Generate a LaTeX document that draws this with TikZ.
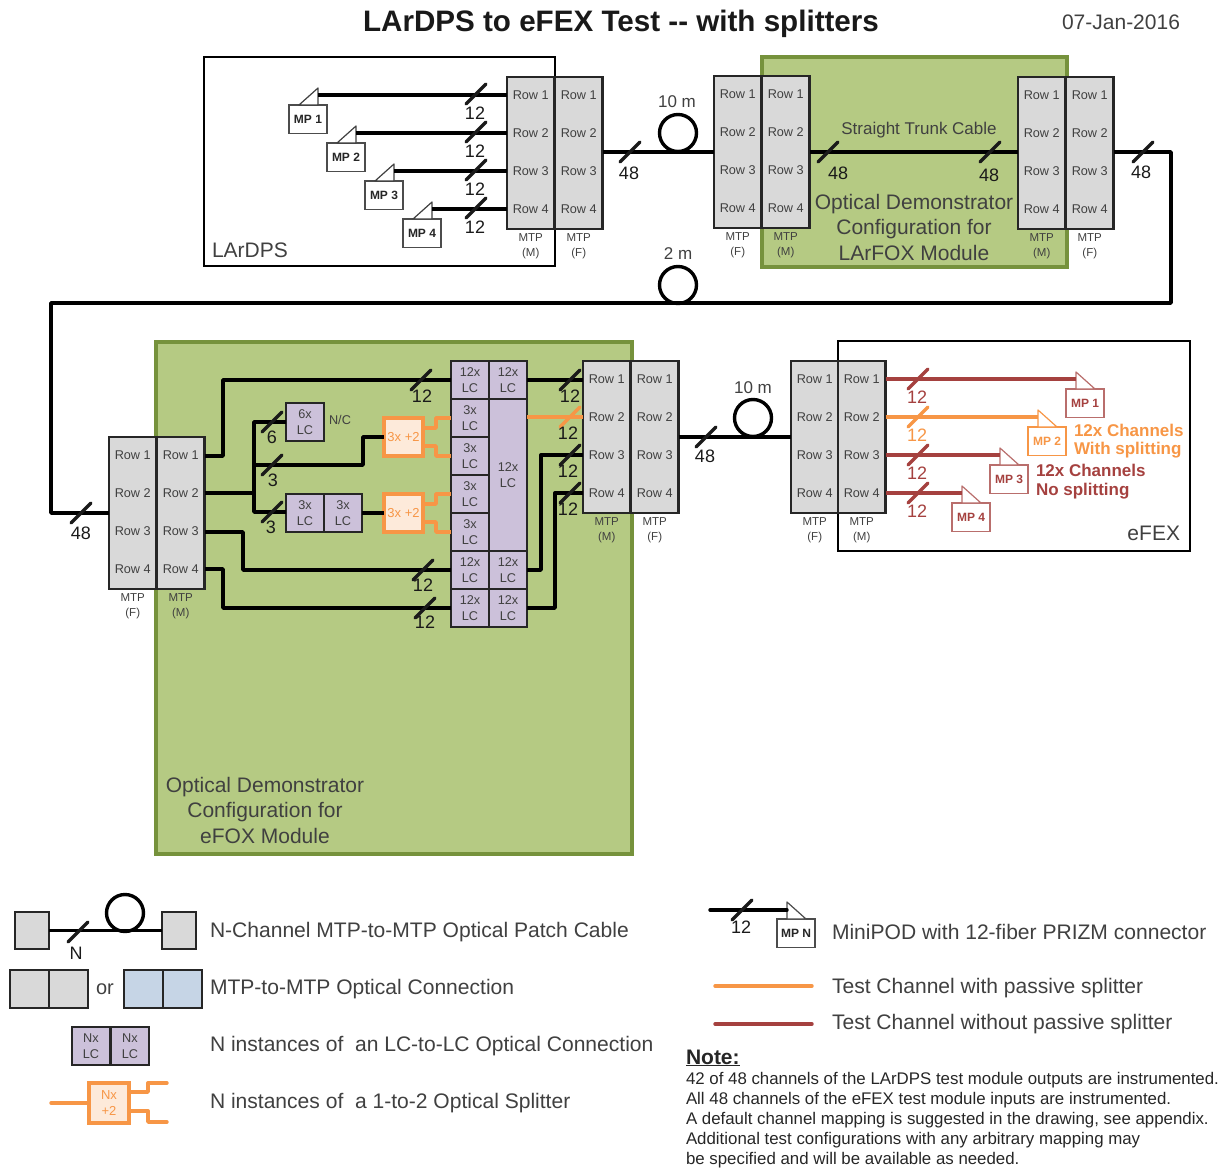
\documentclass[tikz,border=0pt]{standalone}
\usepackage{fontspec}
\setmainfont{Liberation Sans}
\usetikzlibrary{calc}
\definecolor{txt}{HTML}{404040}
\definecolor{ink}{HTML}{1A1A1A}
\definecolor{greyfill}{HTML}{D9D9D9}
\definecolor{lcfill}{HTML}{CCC1DA}
\definecolor{bluefill}{HTML}{C6D5E6}
\definecolor{greenfill}{HTML}{B5CA83}
\definecolor{greenline}{HTML}{76923C}
\definecolor{orng}{HTML}{F79646}
\definecolor{orngfill}{HTML}{FDEADA}
\definecolor{dred}{HTML}{A5413F}
\definecolor{lred}{HTML}{B96E6C}
\newcommand\fs[1]{\fontsize{#1}{#1}\selectfont}
\tikzset{
  plain/.style={inner sep=0pt,outer sep=0pt,text=txt,align=center},
  small/.style={plain,font=\fs{12.7}},
  tiny/.style={plain,font=\fs{11.5}},
  num/.style={plain,font=\fs{18}},
  big/.style={plain,font=\fs{21}},
  legtxt/.style={plain,anchor=west,align=left,font=\fs{21.05}},
  frameb/.style={draw=black,line width=2pt,fill=none,rectangle,inner sep=0pt,outer sep=0pt},
  greenb/.style={draw=greenline,line width=3.5pt,fill=greenfill,rectangle,inner sep=0pt,outer sep=0pt},
  gbox/.style={draw=black!85,line width=2.2pt,fill=greyfill,rectangle,inner sep=0pt,outer sep=0pt,anchor=north west,minimum width=47.5pt,minimum height=152pt},
  lcbox/.style={draw=black!85,line width=2.2pt,fill=lcfill,rectangle,inner sep=0pt,outer sep=0pt,anchor=north west,minimum width=38pt,minimum height=38pt,text=txt,align=center,font=\fs{12.7}},
  splitb/.style={draw=orng,line width=3.5pt,fill=orngfill,rectangle,inner sep=0pt,outer sep=0pt,anchor=north west,minimum width=39pt,minimum height=38pt,text=orng,align=center,font=\fs{13}},
  wire/.style={draw=black,line width=3.4pt,line join=round},
  owire/.style={draw=orng,line width=3.4pt,line join=round},
  rwire/.style={draw=dred,line width=3.4pt,line join=round},
  tick/.style={line width=3.4pt,line cap=round},
  loopc/.style={circle,draw=black,line width=3.4pt,fill=white,minimum size=37pt,inner sep=0pt,outer sep=0pt},
  mpbox/.style={rectangle,line width=1.6pt,draw=#1,fill=white,anchor=north west,minimum width=38pt,minimum height=28.5pt,inner sep=0pt,outer sep=0pt,font=\bfseries\fs{12},text=#1},
}
% half of an MTP pair: name, left x, top y, caption
\newcommand\mtphalf[4]{%
  \node[gbox] (#1) at (#2,#3) {};
  \foreach \r in {1,2,3,4}{%
    \node[small] (#1r\r) at ($(#1.north)+(0,{18+38*(\r-1)})$) {Row \r};}
  \node[tiny] (#1cap) at ($(#1.south)+(0,17)$) {MTP\\[3pt]#4};
}
% tick across a wire: name, x, y, colour, label, label x, label y
\newcommand\tickm[7]{%
  \coordinate (#1) at (#2,#3);
  \draw[tick,#4] ($(#1)+(-10,10)$) -- ($(#1)+(10,-10)$);
  \node[num,text=#4] (#1l) at (#6,#7) {#5};
}
% MiniPOD: name, box left x, box top y, colour, text colour, label
\newcommand\minipod[6]{%
  \node[mpbox=#4,text=#5] (#1) at (#2,#3) {#6};
  \coordinate (#1w) at ($(#1.north west)+(29,-10)$);
}
\newcommand\mptriL[1]{\draw[line width=1.2pt,draw=txt,fill=white,line join=round] ($(#1.north west)+(10,0)$) -- ($(#1.north west)+(29,-17)$) -- ($(#1.north west)+(29,0)$) -- cycle;}
\newcommand\mptriR[2]{\draw[line width=1.2pt,draw=#2,fill=white,line join=round] ($(#1.north west)+(10,-17)$) -- ($(#1.north west)+(10,0)$) -- ($(#1.north west)+(29,0)$) -- cycle;}
\begin{document}
\begin{tikzpicture}[x=1pt,y=-1pt]
\useasboundingbox (0,0) rectangle (1228,1169);
% title
\node[plain,text=black!90,font=\bfseries\fs{29.6}] (title) at (621,24) {LArDPS to eFEX Test {-}{-} with splitters};
\node[plain,font=\fs{21}] (date) at (1121,22) {07-Jan-2016};
% backgrounds
\node[greenb,anchor=north west,minimum width=305pt,minimum height=210pt] (greenA) at (762,57) {};
\node[greenb,anchor=north west,minimum width=476pt,minimum height=512pt] (greenB) at (156,342) {};
\node[frameb,anchor=north west,minimum width=351pt,minimum height=209pt] (lardps) at (204,57) {};
\node[frameb,anchor=north west,minimum width=352pt,minimum height=210pt] (efex) at (838,341) {};
\node[plain,anchor=west,font=\fs{21}] (lardpsT) at (212,250) {LArDPS};
\node[plain,anchor=east,font=\fs{21}] (efexT) at (1180,533) {eFEX};
\node[big] (optA) at (914,227) {Optical Demonstrator\\[4.5pt]Configuration for\\[4.5pt]LArFOX Module};
\node[big] (optB) at (265,810) {Optical Demonstrator\\[4.5pt]Configuration for\\[4.5pt]eFOX Module};
\node[plain,font=\fs{17}] (trunk) at (919,130) {Straight Trunk Cable};
% MTP pairs
\mtphalf{aM}{507}{77}{(M)} \mtphalf{aF}{555}{77}{(F)}
\mtphalf{bF}{714}{76}{(F)} \mtphalf{bM}{762}{76}{(M)}
\mtphalf{cM}{1018}{77}{(M)} \mtphalf{cF}{1066}{77}{(F)}
\mtphalf{dF}{109}{437}{(F)} \mtphalf{dM}{157}{437}{(M)}
\mtphalf{eM}{583}{361}{(M)} \mtphalf{eF}{631}{361}{(F)}
\mtphalf{fF}{791}{361}{(F)} \mtphalf{fM}{838}{361}{(M)}
% LArDPS MiniPODs
\foreach \i/\x/\y in {1/289/105,2/327/143,3/365/181,4/403/219}{%
  \minipod{mpa\i}{\x}{\y}{black!70}{black!85}{MP \i}
  \mptriL{mpa\i}
  \draw[wire] ($(mpa\i w)$) -- (aM.west |- aMr\i);
  \tickm{ta\i}{476}{\y-11}{ink}{12}{475}{\y+8}
}
% cables row 1
\coordinate (cornerA) at (1171,152);
\coordinate (cornerB) at (1171,303);
\coordinate (cornerC) at (51,303);
\coordinate (cornerD) at (51,513);
\node[loopc] (loop1) at (678,133) {};
\node[loopc] (loop2) at (678,285) {};
\node[loopc] (loop3) at (753,418) {};
\draw[wire] (aF.east |- 0,152) -- (bF.west |- 0,152);
\draw[wire] (bM.east |- 0,152) -- (cM.west |- 0,152);
\draw[wire] (cF.east |- 0,152) -- (cornerA) -- (cornerB) -- (cornerC) -- (cornerD) -- (dF.west |- cornerD);
\draw[wire] (eF.east |- 0,437) -- (fF.west |- 0,437);
\node[num,font=\fs{17}] (l10a) at (677,102) {10 m};
\node[num,font=\fs{17}] (l2) at (678,254) {2 m};
\node[num,font=\fs{17}] (l10b) at (753,388) {10 m};
\tickm{t1}{630}{152}{ink}{48}{629}{173}
\tickm{t2}{828}{152}{ink}{48}{838}{173}
\tickm{t3}{990}{152}{ink}{48}{989}{175}
\tickm{t4}{1143}{152}{ink}{48}{1141}{172}
\tickm{t5}{81}{513}{ink}{48}{81}{533}
\tickm{t6}{706}{437}{ink}{48}{705}{456}
% LC connectors
\foreach \n/\y in {tA/361,bB/551,bC/589}{%
  \node[lcbox] (\n l) at (451,\y) {12x\\[3pt]LC};
  \node[lcbox] (\n r) at (489,\y) {12x\\[3pt]LC};
}
\foreach \n/\y in {sA/399,sB/437,sC/475,sD/513}{%
  \node[lcbox] (\n) at (451,\y) {3x\\[3pt]LC};
}
\node[lcbox,minimum height=152pt] (tall) at (489,399) {12x\\[3pt]LC};
\node[lcbox] (six) at (286,403) {6x\\[3pt]LC};
\node[tiny,font=\fs{12.7}] (nc) at (340,420) {N/C};
\node[lcbox] (threeL) at (286,494) {3x\\[3pt]LC};
\node[lcbox] (threeR) at (324,494) {3x\\[3pt]LC};
\node[splitb] (splitA) at (384,418) {3x +2};
\node[splitb] (splitB) at (384,494) {3x +2};
% row wires of patch panel d
\coordinate (j1) at (223,380);
\draw[wire] (dM.east |- 0,456) -- (223,456) -- (j1) -- (tAl.west);
\coordinate (jt) at (254,422);
\coordinate (jm) at (254,465);
\coordinate (jb) at (254,512);
\draw[wire] (dM.east |- 0,493) -- (254,493);
\draw[wire] (six.west |- jt) -- (jt) -- (jb) -- (threeL.west |- jb);
\draw[wire] (jm) -- (363,465) -- (363,437) -- (splitA.west);
\draw[wire] (threeR.east) -- (splitB.west);
\draw[wire] (dM.east |- 0,532) -- (243,532) -- (243,570) -- (bBl.west);
\draw[wire] (dM.east |- 0,569) -- (223,569) -- (223,608) -- (bCl.west);
\tickm{u1}{272}{422}{ink}{6}{272}{437}
\tickm{u2}{272}{465}{ink}{3}{273}{480}
\tickm{u3}{272}{512}{ink}{3}{271}{527}
\tickm{u4}{421}{380}{ink}{12}{422}{396}
\tickm{u5}{423}{570}{ink}{12}{423}{585}
\tickm{u6}{425}{608}{ink}{12}{425}{622}
% splitter outputs
\draw[owire] ($(splitA.east)+(0,-9)$) -- ++(13,0) -- ++(0,-10) -- (sA.west);
\draw[owire] ($(splitA.east)+(0,9)$) -- ++(13,0) -- ++(0,10) -- (sB.west);
\draw[owire] ($(splitB.east)+(0,-9)$) -- ++(13,0) -- ++(0,-10) -- (sC.west);
\draw[owire] ($(splitB.east)+(0,9)$) -- ++(13,0) -- ++(0,10) -- (sD.west);
% LC to panel e
\draw[wire] (tAr.east) -- (eM.west |- tAr.east);
\draw[owire] (tall.east |- eMr2) -- (eM.west |- eMr2);
\draw[wire] (bBr.east) -- (541,570) -- (541,455) -- (eM.west |- eMr3);
\draw[wire] (bCr.east) -- (555,608) -- (555,493) -- (eM.west |- eMr4);
\tickm{v1}{570}{380}{ink}{12}{570}{396}
\tickm{v2}{570}{417}{orng}{\textcolor{ink}{12}}{568}{433}
\tickm{v3}{570}{455}{ink}{12}{568}{471}
\tickm{v4}{570}{493}{ink}{12}{568}{509}
% eFEX MiniPODs
\minipod{mpf1}{1066}{389}{lred}{dred}{MP 1}
\minipod{mpf2}{1028}{427}{orng}{orng}{MP 2}
\minipod{mpf3}{990}{465}{lred}{dred}{MP 3}
\minipod{mpf4}{952}{503}{lred}{dred}{MP 4}
\mptriR{mpf1}{lred}
\mptriR{mpf2}{orng}
\mptriR{mpf3}{lred}
\mptriR{mpf4}{lred}
\draw[rwire] (fM.east |- fMr1) -- ($(mpf1.north west)+(10,-10)$);
\draw[owire] (fM.east |- fMr2) -- ($(mpf2.north west)+(10,-10)$);
\draw[rwire] (fM.east |- fMr3) -- ($(mpf3.north west)+(10,-10)$);
\draw[rwire] (fM.east |- fMr4) -- ($(mpf4.north west)+(10,-10)$);
\tickm{w1}{918}{379}{dred}{12}{917}{397}
\tickm{w2}{918}{417}{orng}{12}{917}{435}
\tickm{w3}{918}{455}{dred}{12}{917}{473}
\tickm{w4}{918}{493}{dred}{12}{917}{511}
\node[plain,anchor=west,text=orng,font=\bfseries\fs{17}] (chA) at (1074,430) {12x Channels};
\node[plain,anchor=west,text=orng,font=\bfseries\fs{17}] (chB) at (1074,450) {With splitting};
\node[plain,anchor=west,text=dred,font=\bfseries\fs{17}] (chC) at (1036,470) {12x Channels};
\node[plain,anchor=west,text=dred,font=\bfseries\fs{17}] (chD) at (1036,491) {No splitting};
% legend left
\node[gbox,minimum width=34pt,minimum height=37pt] (lg1) at (15,912) {};
\node[gbox,minimum width=34pt,minimum height=37pt] (lg2) at (162,912) {};
\node[loopc] (lgl) at (125,913) {};
\draw[wire,line width=3pt] (lg1.east) -- (lg2.west);
\tickm{lgt}{78}{932}{ink}{N}{76}{953}
\node[legtxt] (lt1) at (210,932) {N-Channel MTP-to-MTP Optical Patch Cable};
\node[gbox,minimum width=39pt,minimum height=38pt] (lp1) at (10,970) {};
\node[gbox,minimum width=39pt,minimum height=38pt] (lp2) at (49,970) {};
\node[big,font=\fs{20}] (lor) at (105,989) {or};
\node[gbox,fill=bluefill,minimum width=39pt,minimum height=38pt] (lq1) at (124,970) {};
\node[gbox,fill=bluefill,minimum width=39pt,minimum height=38pt] (lq2) at (163,970) {};
\node[legtxt] (lt2) at (210,989) {MTP-to-MTP Optical Connection};
\node[lcbox] (lr1) at (72,1027) {Nx\\[3pt]LC};
\node[lcbox] (lr2) at (111,1027) {Nx\\[3pt]LC};
\node[legtxt] (lt3) at (210,1046) {N instances of\ \ an LC-to-LC Optical Connection};
\node[splitb,minimum width=40pt,minimum height=40pt] (ls) at (89,1083) {Nx\\[3pt]+2};
\coordinate (lsi) at (51,1103);
\coordinate (lsa) at (167,1083);
\coordinate (lsb) at (167,1122);
\draw[owire,line cap=round] (lsi) -- (ls.west);
\draw[owire,line cap=round] ($(ls.east)+(0,-11)$) -- ++(19,0) -- ++(0,-9) -- (lsa);
\draw[owire,line cap=round] ($(ls.east)+(0,8)$) -- ++(19,0) -- ++(0,11) -- (lsb);
\node[legtxt] (lt4) at (210,1103) {N instances of\ \ a 1-to-2 Optical Splitter};
% legend right
\minipod{lmp}{777}{919}{black!70}{black!85}{MP N}
\mptriR{lmp}{black!70}
\coordinate (lmi) at (710,910);
\draw[wire,line cap=round] (lmi) -- ($(lmp.north west)+(10,-9)$);
\tickm{lmt}{742}{910}{ink}{12}{741}{927}
\node[legtxt] (lt5) at (832,932) {MiniPOD with 12-fiber PRIZM connector};
\coordinate (loa) at (715,986);
\coordinate (lob) at (812,986);
\draw[owire,line cap=round] (loa) -- (lob);
\node[legtxt] (lt6) at (832,988) {Test Channel with passive splitter};
\coordinate (lra) at (715,1024);
\coordinate (lrb) at (812,1024);
\draw[rwire,line cap=round] (lra) -- (lrb);
\node[legtxt] (lt7) at (832,1024) {Test Channel without passive splitter};
% note
\node[plain,anchor=west,font=\bfseries\fs{21},text=black!85] (note) at (686,1057) {Note:};
\draw[line width=1.5pt,black!85] ($(note.south west)+(0,1)$) -- ($(note.south east)+(0,1)$);
\foreach \n/\y/\t in {1/1080/{42 of 48 channels of the LArDPS test module outputs are instrumented.},
  2/1100/{All 48 channels of the eFEX test module inputs are instrumented.},
  3/1120/{A default channel mapping is suggested in the drawing, see appendix.},
  4/1140/{Additional test configurations with any arbitrary mapping may},
  5/1160/{be specified and will be available as needed.}}{%
  \node[plain,anchor=west,font=\fs{16.85},text=black!85] (n\n) at (686,\y) {\t};
}
\end{tikzpicture}
\end{document}
